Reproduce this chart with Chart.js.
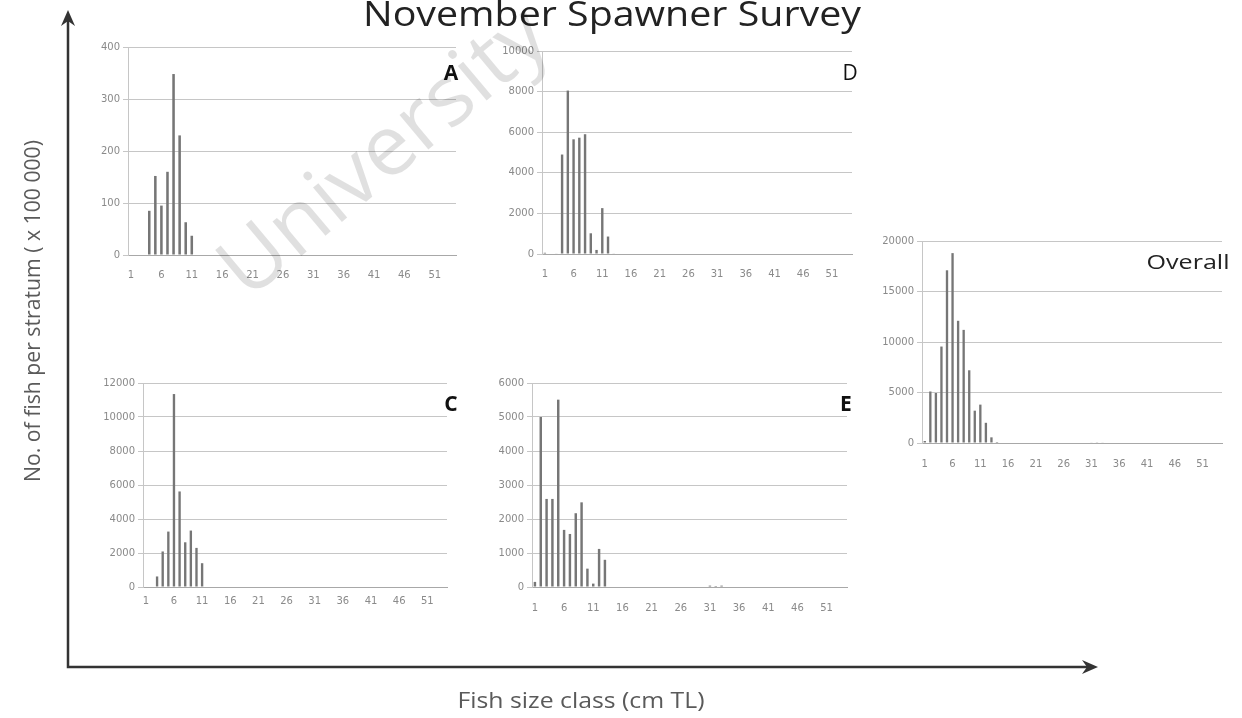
<!DOCTYPE html>
<html>
<head>
<meta charset="utf-8">
<title>November Spawner Survey</title>
<script src="https://cdn.jsdelivr.net/npm/chart.js@4.4.1/dist/chart.umd.min.js"></script>
<style>
  html, body { margin: 0; padding: 0; background: #fff; }
  #page { position: relative; width: 1242px; height: 718px; overflow: hidden; background: #fff; }
  .panel { position: absolute; }
  #overlay { position: absolute; left: 0; top: 0; pointer-events: none; }
</style>
</head>
<body>
<div id="page">
  <div class="panel" id="boxA"><canvas id="chartA"></canvas></div>
  <div class="panel" id="boxD"><canvas id="chartD"></canvas></div>
  <div class="panel" id="boxC"><canvas id="chartC"></canvas></div>
  <div class="panel" id="boxE"><canvas id="chartE"></canvas></div>
  <div class="panel" id="boxO"><canvas id="chartO"></canvas></div>

  <svg id="overlay" width="1242" height="718" xmlns="http://www.w3.org/2000/svg">
    <!-- title -->
    <text x="612" y="26" text-anchor="middle" font-family="Open Sans, Noto Sans, sans-serif" font-size="35" fill="#222" textLength="498" lengthAdjust="spacingAndGlyphs">November Spawner Survey</text>

    <!-- big axes with arrows -->
    <path d="M68,16 L68,667 L1090,667" fill="none" stroke="#333" stroke-width="2.5"/>
    <path d="M61,26 L68,10 L75,26 L68,21 Z" fill="#333"/>
    <path d="M1082,660 L1098,667 L1082,674 L1087,667 Z" fill="#333"/>

    <text transform="translate(40,311) rotate(-90)" text-anchor="middle" font-family="Open Sans, Noto Sans, sans-serif" font-size="21" fill="#5a5a5a" textLength="342" lengthAdjust="spacingAndGlyphs">No. of fish per stratum ( x 100 000)</text>
    <text x="581" y="708" text-anchor="middle" font-family="Open Sans, Noto Sans, sans-serif" font-size="22" fill="#5a5a5a" textLength="247" lengthAdjust="spacingAndGlyphs">Fish size class (cm TL)</text>

    <!-- panel letters -->
    <text x="451" y="80" text-anchor="middle" font-family="Open Sans, sans-serif" font-weight="bold" font-size="21" fill="#111">A</text>
    <text x="850" y="80" text-anchor="middle" font-family="Open Sans, sans-serif" font-size="21" fill="#111">D</text>
    <text x="451" y="411" text-anchor="middle" font-family="Open Sans, sans-serif" font-weight="bold" font-size="21" fill="#111">C</text>
    <text x="846" y="411" text-anchor="middle" font-family="Open Sans, sans-serif" font-weight="bold" font-size="21" fill="#111">E</text>
    <text x="1188" y="269" text-anchor="middle" font-family="Open Sans, sans-serif" font-size="20" fill="#222" textLength="83" lengthAdjust="spacingAndGlyphs">Overall</text>

    <!-- watermark -->
    <text transform="translate(382,150) rotate(-40)" text-anchor="middle" dy="0.35em" font-family="Open Sans, sans-serif" font-size="84" fill="#000" fill-opacity="0.12" textLength="400" lengthAdjust="spacingAndGlyphs">University</text>
  </svg>
</div>

<script>
/* ── Data ── */
const sizeClasses = ['1','2','3','4','5','6','7','8','9','10','11','12','13','14','15','16','17','18',
  '19','20','21','22','23','24','25','26','27','28','29','30','31','32','33','34','35','36',
  '37','38','39','40','41','42','43','44','45','46','47','48','49','50','51','52','53','54'];
const xTickLabels = ['1','6','11','16','21','26','31','36','41','46','51'];

const stratumA = [0,0,0,85,152,95,160,348,230,63,37,0,0,0,0,0,0,0,
  0,0,0,0,0,0,0,0,0,0,0,0,0,0,0,0,0,0,
  0,0,0,0,0,0,0,0,0,0,0,0,0,0,0,0,0,0];
const stratumD = [60,0,20,4900,8050,5650,5730,5900,1020,200,2260,860,30,0,0,0,0,0,
  0,0,0,0,0,0,0,0,0,0,0,0,0,0,0,0,0,0,
  0,0,0,0,0,0,0,0,0,0,0,0,0,0,0,0,0,0];
const stratumC = [0,0,620,2090,3260,11350,5620,2630,3320,2300,1400,0,0,0,0,0,0,0,
  0,0,0,0,0,0,0,0,0,0,0,0,0,0,0,0,0,0,
  0,0,0,0,0,0,0,0,0,0,0,0,0,0,0,0,0,0];
const stratumE = [150,5000,2590,2590,5510,1680,1560,2170,2490,540,100,1120,800,0,0,0,0,0,
  0,0,0,0,0,0,0,0,0,0,0,0,40,30,40,0,0,0,
  0,0,0,0,0,0,0,0,0,0,0,0,0,0,0,0,0,0];
const overall  = [200,5100,4950,9550,17100,18800,12100,11200,7200,3200,3800,2000,560,100,0,0,0,0,
  0,0,0,0,0,0,0,0,0,0,0,0,40,30,40,0,0,0,
  0,0,0,0,0,0,0,0,0,0,0,0,0,0,0,0,0,0];

const yTicksA = [0,100,200,300,400];
const yTicksD = [0,2000,4000,6000,8000,10000];
const yTicksC = [0,2000,4000,6000,8000,10000,12000];
const yTicksE = [0,1000,2000,3000,4000,5000,6000];
const yTicksO = [0,5000,10000,15000,20000];

/* ── Layout (plot area corners: left, top, right, bottom) ── */
const YW = 42, PT = 10, PR = 3, XH = 32;
const panels = [
  { box: 'boxA', id: 'chartA', data: stratumA, ticks: yTicksA, plot: [128, 47, 456, 255], xPad: 14 },
  { box: 'boxD', id: 'chartD', data: stratumD, ticks: yTicksD, plot: [542, 51, 852, 254], xPad: 14 },
  { box: 'boxC', id: 'chartC', data: stratumC, ticks: yTicksC, plot: [143, 383, 447, 587], xPad: 8 },
  { box: 'boxE', id: 'chartE', data: stratumE, ticks: yTicksE, plot: [532, 383, 847, 587], xPad: 15 },
  { box: 'boxO', id: 'chartO', data: overall,  ticks: yTicksO, plot: [922, 241, 1222, 443], xPad: 15 },
];

const tickFont = { family: 'DejaVu Sans', size: 10 };

panels.forEach(p => {
  const [l, t, r, b] = p.plot;
  const w = YW + (r - l) + PR;
  const h = PT + (b - t) + XH;
  const box = document.getElementById(p.box);
  box.style.cssText = `left:${l - YW}px;top:${t - PT}px;width:${w}px;height:${h}px;`;
  const cv = document.getElementById(p.id);
  cv.width = w; cv.height = h;

  new Chart(cv, {
    type: 'bar',
    data: {
      labels: sizeClasses,
      datasets: [{
        data: p.data,
        backgroundColor: '#767676',
        barPercentage: 0.42,
        categoryPercentage: 1,
      }]
    },
    options: {
      responsive: false,
      animation: false,
      devicePixelRatio: 1,
      layout: { padding: { top: PT, right: PR, left: 0, bottom: 0 } },
      plugins: { legend: { display: false }, tooltip: { enabled: false } },
      scales: {
        x: {
          offset: true,
          grid: { display: false, drawTicks: false },
          border: { color: '#a8a8a8', width: 1 },
          ticks: {
            autoSkip: false, maxRotation: 0, padding: p.xPad,
            color: '#8a8a8a', font: tickFont,
            callback: (v, i) => xTickLabels.includes(sizeClasses[i]) ? sizeClasses[i] : ''
          },
          afterFit: s => { s.height = XH; s.paddingLeft = 0; s.paddingRight = 0; }
        },
        y: {
          min: 0,
          max: p.ticks[p.ticks.length - 1],
          afterBuildTicks: s => { s.ticks = p.ticks.map(v => ({ value: v })); },
          grid: { color: '#c6c6c6', tickLength: 5 },
          border: { color: '#c6c6c6' },
          ticks: { padding: 3, color: '#8a8a8a', font: tickFont, callback: v => String(v) },
          afterFit: s => { s.width = YW; }
        }
      }
    }
  });
});
</script>
</body>
</html>
